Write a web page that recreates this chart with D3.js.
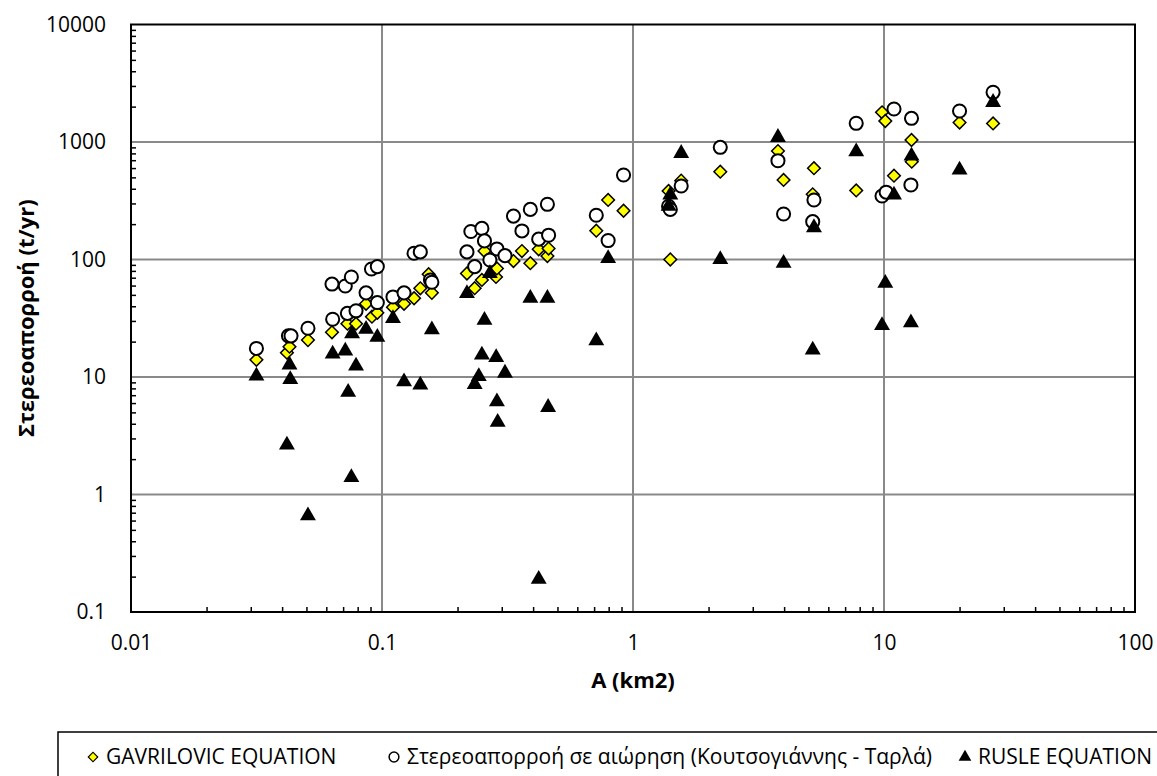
<!DOCTYPE html>
<html>
<head>
<meta charset="utf-8">
<script src="https://cdn.jsdelivr.net/npm/d3@7"></script>
<style>
  html, body { margin: 0; padding: 0; background: #fff; }
  svg { display: block; font-family: "Open Sans", "Noto Sans", sans-serif; }
</style>
</head>
<body>
<div id="chart"></div>
<script>
// area (km2) / sediment yield (t/yr)
const X_TICKS = [0.01, 0.1, 1, 10, 100];
const Y_TICKS = [0.1, 1, 10, 100, 1000, 10000];
const SERIES_NAMES = [
  'GAVRILOVIC EQUATION',
  'Στερεοαπορροή σε αιώρηση (Κουτσογιάννης - Ταρλά)',
  'RUSLE EQUATION'
];

const gavrilovic = [
  [0.0316, 14.0], [0.0418, 16.1], [0.0428, 18.1], [0.0507, 20.6], [0.0632, 24],
  [0.0728, 28.4], [0.0788, 28.4], [0.0864, 42], [0.0912, 32.6], [0.0958, 35.2],
  [0.1106, 39.2], [0.1224, 42], [0.1342, 46.8], [0.1421, 56.9], [0.1534, 75],
  [0.158, 52], [0.218, 76], [0.234, 57], [0.250, 67], [0.256, 118],
  [0.2846, 71], [0.287, 84], [0.334, 97], [0.361, 118], [0.390, 93],
  [0.421, 122], [0.456, 107], [0.461, 124], [0.714, 176], [0.796, 321],
  [0.917, 260], [1.386, 383], [1.408, 100], [1.556, 469], [2.227, 559],
  [3.78, 838], [3.98, 475], [5.26, 598], [5.2, 359], [7.75, 387],
  [9.82, 1790], [10.12, 1509], [10.96, 517], [12.87, 1040], [12.9, 680],
  [20.0, 1465], [27.2, 1440]
];

const suspended = [
  [0.0316, 17.5], [0.0424, 22.4], [0.0434, 22.4], [0.0507, 26], [0.0632, 61.8],
  [0.0636, 31], [0.0714, 59.5], [0.0728, 34.8], [0.0755, 71], [0.0788, 36.6],
  [0.0864, 52], [0.0908, 83], [0.0958, 87], [0.0958, 43], [0.1106, 48],
  [0.1224, 52], [0.1342, 113], [0.1421, 116], [0.156, 67], [0.158, 64],
  [0.218, 116], [0.226, 173], [0.234, 87], [0.250, 184], [0.256, 144],
  [0.269, 99], [0.287, 123], [0.309, 108], [0.334, 234], [0.361, 175],
  [0.390, 267], [0.421, 149], [0.456, 295], [0.461, 161], [0.714, 238],
  [0.796, 145], [0.917, 524], [1.386, 284], [1.408, 267], [1.556, 422],
  [2.227, 901], [3.78, 693], [3.98, 244], [5.26, 321], [5.2, 210],
  [7.75, 1443], [9.82, 347], [10.2, 374], [10.96, 1909], [12.87, 1591],
  [12.8, 431], [20.0, 1836], [27.2, 2649]
];

const rusle = [
  [0.0316, 10.2], [0.0428, 12.7], [0.0431, 9.55], [0.0418, 2.64], [0.0507, 0.66],
  [0.0636, 15.7], [0.0714, 16.7], [0.076, 23.4], [0.0788, 12.4], [0.0733, 7.43],
  [0.0755, 1.40], [0.0864, 25.5], [0.0958, 21.8], [0.1106, 31.5], [0.1224, 9.12],
  [0.1421, 8.55], [0.158, 25.3], [0.218, 51.5], [0.234, 8.67], [0.243, 10.1],
  [0.250, 15.4], [0.256, 30.5], [0.269, 76], [0.285, 14.7], [0.287, 6.17],
  [0.289, 4.12], [0.309, 10.8], [0.390, 46.8], [0.421, 0.19], [0.456, 46.8],
  [0.459, 5.52], [0.714, 20.4], [0.796, 102], [1.408, 354], [1.386, 284],
  [1.556, 801], [2.227, 100], [3.78, 1096], [3.98, 93], [5.26, 187],
  [5.2, 17], [7.75, 827], [9.82, 27.5], [10.12, 63], [10.96, 354],
  [12.87, 760], [12.8, 29], [20.0, 578], [27.2, 2177]
];

const WIDTH = 1157, HEIGHT = 776;
const MARGIN = { top: 24.5, right: 22, bottom: 164, left: 131 };
const W = WIDTH - MARGIN.left - MARGIN.right;
const H = HEIGHT - MARGIN.top - MARGIN.bottom;

const svg = d3.select('#chart')
  .append('svg')
    .attr('width', WIDTH)
    .attr('height', HEIGHT);

const g = svg.append('g')
  .attr('transform', `translate(${MARGIN.left}, ${MARGIN.top})`);

const x = d3.scaleLog().domain([0.01, 100]).range([0, W]);
const y = d3.scaleLog().domain([0.1, 10000]).range([H, 0]);

const minorX = x.ticks().filter(v => !X_TICKS.includes(v));
const minorY = y.ticks().filter(v => !Y_TICKS.includes(v));

// gridlines
g.append('g')
  .selectAll('line')
  .data(X_TICKS.slice(1, -1))
  .enter().append('line')
    .attr('x1', d => x(d)).attr('x2', d => x(d))
    .attr('y1', 0).attr('y2', H)
    .attr('stroke', '#898989').attr('stroke-width', 2);
g.append('g')
  .selectAll('line')
  .data(Y_TICKS.slice(1, -1))
  .enter().append('line')
    .attr('y1', d => y(d)).attr('y2', d => y(d))
    .attr('x1', 0).attr('x2', W)
    .attr('stroke', '#898989').attr('stroke-width', 2);

// minor ticks, pointing into the plot
const minorXAxis = g.append('g')
  .attr('transform', `translate(0, ${H})`)
  .call(d3.axisBottom(x).tickValues(minorX).tickSize(-5).tickFormat(''));
const minorYAxis = g.append('g')
  .call(d3.axisLeft(y).tickValues(minorY).tickSize(-5).tickFormat(''));
[minorXAxis, minorYAxis].forEach(a => {
  a.select('.domain').remove();
  a.selectAll('line').attr('stroke', '#000').attr('stroke-width', 1.5);
});

// labelled axes
const xAxis = g.append('g')
  .attr('transform', `translate(0, ${H})`)
  .call(d3.axisBottom(x).tickValues(X_TICKS).tickSize(0).tickPadding(23).tickFormat(d => String(d)));
const yAxis = g.append('g')
  .call(d3.axisLeft(y).tickValues(Y_TICKS).tickSize(0).tickPadding(25).tickFormat(d => String(d)));
[xAxis, yAxis].forEach(a => {
  a.select('.domain').remove();
  a.selectAll('text')
    .attr('font-family', '"Open Sans", sans-serif')
    .attr('font-size', 21)
    .attr('fill', '#000');
});

// plot frame
g.append('rect')
  .attr('x', 0).attr('y', 0)
  .attr('width', W).attr('height', H)
  .attr('fill', 'none')
  .attr('stroke', '#000')
  .attr('stroke-width', 2);

// axis titles
svg.append('text')
  .attr('x', MARGIN.left + W / 2)
  .attr('y', 688)
  .attr('text-anchor', 'middle')
  .attr('font-size', 22)
  .attr('font-weight', 'bold')
  .text('A (km2)');

svg.append('text')
  .attr('transform', `translate(34, ${MARGIN.top + H / 2}) rotate(-90)`)
  .attr('text-anchor', 'middle')
  .attr('font-size', 22)
  .attr('font-weight', 'bold')
  .text('Στερεοαπορροή (t/yr)');

// markers
const diamond = d3.symbol().type(d3.symbolSquare).size(80);
const circle = d3.symbol().type(d3.symbolCircle).size(135);
const triangle = d3.symbol().type(d3.symbolTriangle).size(110);

g.append('g').selectAll('path')
  .data(gavrilovic)
  .enter().append('path')
    .attr('d', diamond)
    .attr('transform', d => `translate(${x(d[0])}, ${y(d[1])}) rotate(45)`)
    .attr('fill', '#ffff00')
    .attr('stroke', '#000')
    .attr('stroke-width', 1.5);

g.append('g').selectAll('path')
  .data(suspended)
  .enter().append('path')
    .attr('d', circle)
    .attr('transform', d => `translate(${x(d[0])}, ${y(d[1])})`)
    .attr('fill', '#fff')
    .attr('stroke', '#000')
    .attr('stroke-width', 2);

g.append('g').selectAll('path')
  .data(rusle)
  .enter().append('path')
    .attr('d', triangle)
    .attr('transform', d => `translate(${x(d[0])}, ${y(d[1])})`)
    .attr('fill', '#000');

// legend
const legend = svg.append('g');
legend.append('rect')
  .attr('x', 58).attr('y', 732)
  .attr('width', 1130).attr('height', 60)
  .attr('fill', '#fff')
  .attr('stroke', '#000')
  .attr('stroke-width', 1.5);

const ly = 757;
const symbols = [
  sel => sel.attr('d', d3.symbol().type(d3.symbolSquare).size(45))
    .attr('fill', '#ffff00').attr('stroke', '#000').attr('stroke-width', 1.2),
  sel => sel.attr('d', d3.symbol().type(d3.symbolCircle).size(75))
    .attr('fill', '#fff').attr('stroke', '#000').attr('stroke-width', 1.5),
  sel => sel.attr('d', d3.symbol().type(d3.symbolTriangle).size(70))
    .attr('fill', '#000')
];
const markerX = [93, 394, 965];
SERIES_NAMES.forEach((name, i) => {
  const m = legend.append('path')
    .attr('transform', `translate(${markerX[i]}, ${ly})${i === 0 ? ' rotate(45)' : ''}`);
  symbols[i](m);
  legend.append('text')
    .attr('x', markerX[i] + 13).attr('y', ly)
    .attr('dy', '0.35em')
    .attr('font-size', 21)
    .text(name);
});
</script>
</body>
</html>
